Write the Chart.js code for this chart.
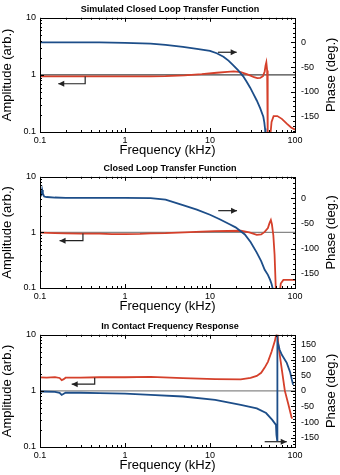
<!DOCTYPE html>
<html lang="en">
<head>
<meta charset="UTF-8" />
<title>Closed loop transfer functions</title>
<script src="https://cdn.jsdelivr.net/npm/chart.js@4.4.0/dist/chart.umd.min.js"></script>
<style>
  body { margin: 0; background: #fff; width: 340px; height: 475px; position: relative; overflow: hidden; }
  canvas { position: absolute; left: 0; }
</style>
</head>
<body>
<canvas id="c1" width="340" height="158" style="top:0px"></canvas>
<canvas id="c2" width="340" height="155" style="top:159px"></canvas>
<canvas id="c3" width="340" height="156" style="top:317px"></canvas>

<script>
// ---- data (frequency in kHz) ----
const titles = ['Simulated Closed Loop Transfer Function', 'Closed Loop Transfer Function', 'In Contact Frequency Response'];
const freqTicks = [0.1, 1, 10, 100];
const ampTicks = [0.1, 1, 10];

// panel 1 - simulated
const p1AmpFreq = [0.1, 0.5, 1, 2, 3, 5, 8, 12, 16, 19, 23, 27, 30, 33, 36, 39, 42, 44, 45, 46, 47, 47.5, 48, 51, 53, 56, 62, 70, 80, 90, 100];
const p1Amp = [0.94, 0.94, 0.94, 0.94, 0.95, 0.98, 1.03, 1.09, 1.13, 1.15, 1.12, 1.03, 0.97, 0.91, 0.88, 0.89, 0.95, 1.15, 1.45, 1.66, 1.2, 0.5, 0.08, 0.08, 0.15, 0.19, 0.19, 0.17, 0.14, 0.12, 0.11];
const p1PhaseFreq = [0.1, 0.5, 1, 2, 3, 4.8, 7, 10, 12, 14.4, 16.5, 18.7, 21.5, 24.6, 27, 29.7, 32.5, 35.5, 39, 42.4, 43.5, 44.4, 45];
const p1Phase = [0, 0, -0.8, -2.6, -5, -9, -13, -17, -22, -29, -37, -46, -57, -69, -80, -92, -105, -118, -134, -151, -162, -175, -190];
const p1PhaseTicks = [-150, -100, -50, 0];

// panel 2 - measured closed loop
const p2AmpFreq = [0.1, 0.15, 0.2, 0.3, 0.5, 0.7, 1, 1.5, 2, 3, 5, 8, 11.4, 16, 23, 29, 35.5, 40, 44, 48, 50, 52, 53.5, 55.6, 57.5, 59.7, 66, 68, 73, 80, 90, 100];
const p2Amp = [0.99, 0.97, 0.96, 0.95, 0.95, 0.93, 0.93, 0.94, 0.96, 0.97, 1.0, 1.03, 1.05, 1.06, 1.07, 1.0, 0.9, 0.92, 1.02, 1.2, 1.45, 1.67, 1.4, 0.89, 0.4, 0.08, 0.08, 0.12, 0.14, 0.14, 0.14, 0.14];
const p2PhaseFreq = [0.1, 0.104, 0.106, 0.108, 0.112, 0.12, 0.15, 0.2, 0.5, 1, 2, 3, 4.8, 7, 10, 13, 17, 20, 25.7, 30, 35.5, 40, 44, 48, 51, 53, 55, 57];
const p2Phase = [2, 6, 16, 9, 3, 2, 1, 0.5, 0.5, 0.5, 0, -3, -14, -23, -33, -42, -52, -58, -72, -87, -108, -125, -142, -152, -162, -170, -181, -190];
const p2PhaseTicks = [-150, -100, -50, 0];

// panel 3 - in contact
const p3AmpFreq = [0.1, 0.12, 0.15, 0.17, 0.18, 0.19, 0.2, 0.3, 0.5, 1, 2, 4.8, 11.5, 23, 30, 35.5, 40, 44, 48, 53, 58, 60.5, 62, 63.5, 66, 70, 76, 83.5, 91, 93];
const p3Amp = [1.74, 1.72, 1.76, 1.7, 1.55, 1.62, 1.72, 1.72, 1.75, 1.75, 1.78, 1.69, 1.62, 1.6, 1.7, 1.85, 2.1, 2.6, 3.3, 5.0, 7.8, 10.5, 12, 7, 4.5, 2.4, 1.0, 0.58, 0.34, 0.32];
const p3PhaseFreq = [0.1, 0.15, 0.17, 0.18, 0.19, 0.2, 0.3, 0.5, 1, 2, 4.8, 11.5, 23, 35.5, 45.7, 54, 59.7, 60.5, 61.6, 61.62, 62.5, 66, 70, 80, 87.5, 92, 95];
const p3Phase = [-2, -3, -6, -13, -9, -6, -6, -7, -9, -13, -18, -29, -45, -56, -71, -93, -109, -141, -158, 180, 160, 132, 116, 90, 61, 35, 20];
const p3PhaseTicks = [-150, -100, -50, 0, 50, 100, 150];

// arrows pointing to the axis each curve belongs to: [freq, value]
const p1ArrowAmp = [[0.34, 0.94], [0.34, 0.70], [0.164, 0.70]];
const p1ArrowPhase = [[12.4, -20], [20.6, -20]];
const p2ArrowAmp = [[0.32, 0.96], [0.32, 0.71], [0.17, 0.71]];
const p2ArrowPhase = [[12.5, -25], [20.8, -25]];
const p3ArrowAmp = [[0.44, 1.72], [0.44, 1.32], [0.236, 1.32]];
const p3ArrowPhase = [[44, -163], [80, -163]];

const BLUE = '#1d4e89';
const RED = '#d5402b';
const FONT = '"Liberation Sans", Arial, sans-serif';

function pts(xs, ys) { return xs.map((x, i) => ({ x: x, y: ys[i] })); }

// box, inward tick marks, arrows and the right axis title
const framePlugin = {
  id: 'frame',
  afterDatasetsDraw(chart, args, opts) {
    const ctx = chart.ctx, a = chart.chartArea;
    const xs = chart.scales.x, ya = chart.scales.y, yp = chart.scales.y1;
    ctx.save();
    ctx.strokeStyle = '#000';
    ctx.lineWidth = 1;
    ctx.beginPath();
    // log ticks on x (top + bottom) and left y
    for (let d = 0.1; d < 99; d *= 10) {
      for (let k = 1; k <= 9; k++) {
        const v = d * k, len = k === 1 ? 4 : 2;
        const px = Math.round(xs.getPixelForValue(v)) + 0.5;
        ctx.moveTo(px, a.bottom); ctx.lineTo(px, a.bottom - len);
        ctx.moveTo(px, a.top); ctx.lineTo(px, a.top + len);
        if (d < 9) {
          const py = Math.round(ya.getPixelForValue(v)) + 0.5;
          ctx.moveTo(a.left, py); ctx.lineTo(a.left + len, py);
        }
      }
    }
    // linear ticks on right phase axis
    for (let v = Math.ceil(yp.min / 10) * 10; v <= yp.max; v += 10) {
      const py = Math.round(yp.getPixelForValue(v)) + 0.5;
      const len = v % 50 === 0 ? 4 : 2;
      ctx.moveTo(a.right, py); ctx.lineTo(a.right - len, py);
    }
    ctx.stroke();
    ctx.strokeRect(Math.round(a.left) + 0.5, Math.round(a.top) + 0.5, Math.round(a.right - a.left), Math.round(a.bottom - a.top));

    // arrows
    ctx.strokeStyle = '#222';
    ctx.fillStyle = '#222';
    ctx.lineWidth = 1.2;
    [[opts.arrowAmp, ya], [opts.arrowPhase, yp]].forEach(([arr, ys]) => {
      const p = arr.map(q => [xs.getPixelForValue(q[0]), ys.getPixelForValue(q[1])]);
      ctx.beginPath();
      ctx.moveTo(p[0][0], p[0][1]);
      for (let i = 1; i < p.length; i++) ctx.lineTo(p[i][0], p[i][1]);
      ctx.stroke();
      const e = p[p.length - 1], s = p[p.length - 2];
      const ang = Math.atan2(e[1] - s[1], e[0] - s[0]);
      ctx.beginPath();
      ctx.moveTo(e[0], e[1]);
      ctx.lineTo(e[0] - 6 * Math.cos(ang) + 3 * Math.sin(ang), e[1] - 6 * Math.sin(ang) - 3 * Math.cos(ang));
      ctx.lineTo(e[0] - 6 * Math.cos(ang) - 3 * Math.sin(ang), e[1] - 6 * Math.sin(ang) + 3 * Math.cos(ang));
      ctx.closePath();
      ctx.fill();
    });

    // right axis title, reads bottom to top like the left one
    ctx.fillStyle = '#000';
    ctx.font = '13px ' + FONT;
    ctx.textAlign = 'center';
    ctx.textBaseline = 'middle';
    ctx.translate(331, (a.top + a.bottom) / 2);
    ctx.rotate(-Math.PI / 2);
    ctx.fillText('Phase (deg.)', 0, 0);
    ctx.restore();
  }
};

function makeChart(id, title, ampFreq, amp, phaseFreq, phase, phaseMin, phaseMax, phaseTicks, refColor, arrowAmp, arrowPhase) {
  const noGrid = { display: false, drawTicks: false, tickLength: 0 };
  return new Chart(document.getElementById(id), {
    type: 'line',
    data: {
      datasets: [
        { data: pts(phaseFreq, phase), yAxisID: 'y1', borderColor: BLUE, borderWidth: 1.8 },
        { data: pts(ampFreq, amp), yAxisID: 'y', borderColor: RED, borderWidth: 1.8 },
        { data: pts([0.1, 100], [1, 1]), yAxisID: 'y', borderColor: refColor, borderWidth: 1.2 }
      ]
    },
    options: {
      responsive: false,
      animation: false,
      elements: { point: { radius: 0 }, line: { tension: 0 } },
      layout: { padding: 0 },
      plugins: {
        legend: { display: false },
        tooltip: { enabled: false },
        title: {
          display: true, text: title, color: '#000',
          font: { family: FONT, size: 9, weight: 'bold' },
          padding: { top: 4, bottom: 3 }
        },
        frame: { arrowAmp: arrowAmp, arrowPhase: arrowPhase }
      },
      scales: {
        x: {
          type: 'logarithmic', min: 0.1, max: 100,
          grid: noGrid,
          border: { display: false },
          afterBuildTicks: s => { s.ticks = freqTicks.map(v => ({ value: v })); },
          afterFit: s => { s.height = 26; },
          ticks: { autoSkip: false, maxRotation: 0, padding: 3, color: '#000', font: { family: FONT, size: 9 }, callback: v => String(v) },
          title: { display: true, text: 'Frequency (kHz)', color: '#000', padding: 0, font: { family: FONT, size: 13 } }
        },
        y: {
          type: 'logarithmic', position: 'left', min: 0.1, max: 10,
          grid: noGrid,
          border: { display: false },
          afterBuildTicks: s => { s.ticks = ampTicks.map(v => ({ value: v })); },
          afterFit: s => { s.width = 40; },
          ticks: { autoSkip: false, padding: 4, color: '#000', font: { family: FONT, size: 9 }, callback: v => String(v) },
          title: { display: true, text: 'Amplitude (arb.)', color: '#000', padding: 0, font: { family: FONT, size: 13 } }
        },
        y1: {
          type: 'linear', position: 'right', min: phaseMin, max: phaseMax,
          grid: noGrid,
          border: { display: false },
          afterBuildTicks: s => { s.ticks = phaseTicks.map(v => ({ value: v })); },
          afterFit: s => { s.width = 45; },
          ticks: { autoSkip: false, padding: 6, color: '#000', font: { family: FONT, size: 9 } }
        }
      }
    },
    plugins: [framePlugin]
  });
}

makeChart('c1', titles[0], p1AmpFreq, p1Amp, p1PhaseFreq, p1Phase, -182, 50, p1PhaseTicks, '#444', p1ArrowAmp, p1ArrowPhase);
makeChart('c2', titles[1], p2AmpFreq, p2Amp, p2PhaseFreq, p2Phase, -178, 42, p2PhaseTicks, '#888', p2ArrowAmp, p2ArrowPhase);
makeChart('c3', titles[2], p3AmpFreq, p3Amp, p3PhaseFreq, p3Phase, -180, 180, p3PhaseTicks, '#888', p3ArrowAmp, p3ArrowPhase);
</script>
</body>
</html>
